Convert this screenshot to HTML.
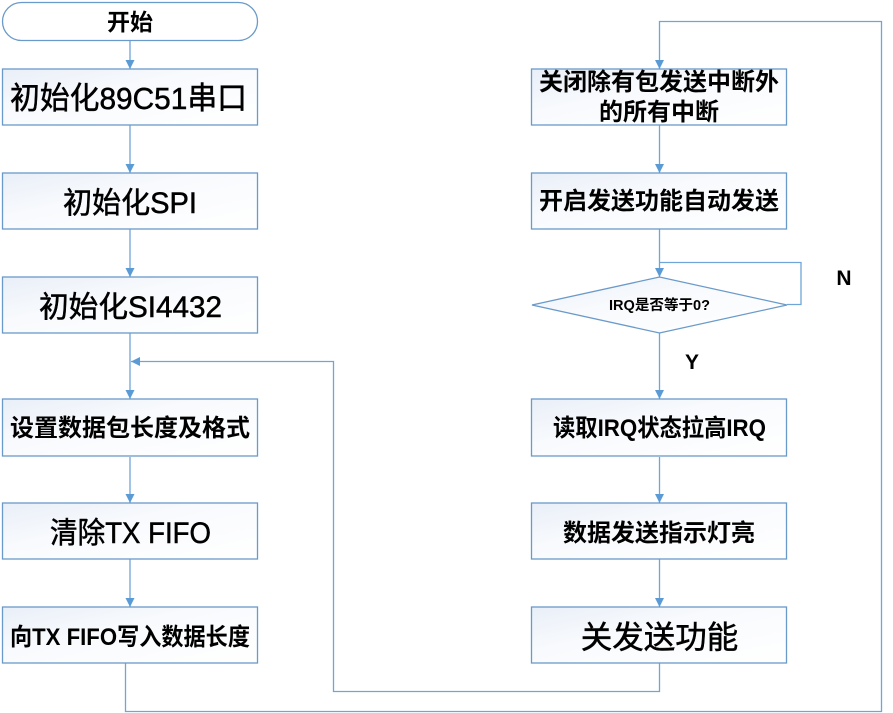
<!DOCTYPE html>
<html lang="zh">
<head>
<meta charset="utf-8">
<style>
html,body{margin:0;padding:0;background:#fff;}
svg{display:block;}
text{font-family:"Liberation Sans","Noto Sans CJK SC",sans-serif;fill:#000;text-anchor:middle;}
.b{font-weight:bold;}
.m{stroke:#000;stroke-width:0.5;}
.box{fill:url(#g);stroke:#6a9ac9;stroke-width:1.3;}
.ln{fill:none;stroke:#6fa5d8;stroke-width:1.3;}
.ah{fill:#5b9bd5;stroke:none;}
</style>
</head>
<body>
<svg width="893" height="713" viewBox="0 0 893 713" xmlns="http://www.w3.org/2000/svg">
<defs>
<linearGradient id="g" x1="0" y1="0" x2="1" y2="1">
<stop offset="0" stop-color="#e9eff8"/>
<stop offset="0.4" stop-color="#f8fafd"/>
<stop offset="1" stop-color="#ffffff"/>
</linearGradient>
</defs>

<!-- connectors -->
<path class="ln" d="M130 41V69M130 125V173M130 229V277M130 333V399M130 457V503M130 559V607"/>
<path class="ln" d="M125.500 663V711.500H881.500V21.500H659.500V69"/>
<path class="ln" d="M659.500 663V691.500H333.500V361.500H131"/>
<path class="ln" d="M659.500 125V173M659.500 229V277M659.500 333V399M659.500 457V503M659.500 559V607"/>
<path class="ln" d="M659.500 262.500H801V304.500H787"/>

<!-- arrowheads -->
<path class="ah" d="M125.500 60H134.500L130 69Z"/>
<path class="ah" d="M125.500 164H134.500L130 173Z"/>
<path class="ah" d="M125.500 268H134.500L130 277Z"/>
<path class="ah" d="M125.500 390H134.500L130 399Z"/>
<path class="ah" d="M125.500 494H134.500L130 503Z"/>
<path class="ah" d="M125.500 598H134.500L130 607Z"/>
<path class="ah" d="M131 361.500L140 357V366Z"/>
<path class="ah" d="M655 60H664L659.500 69Z"/>
<path class="ah" d="M655 164H664L659.500 173Z"/>
<path class="ah" d="M655 268H664L659.500 277Z"/>
<path class="ah" d="M655 390H664L659.500 399Z"/>
<path class="ah" d="M655 494H664L659.500 503Z"/>
<path class="ah" d="M655 598H664L659.500 607Z"/>

<!-- left column -->
<rect x="2.500" y="2.500" width="255" height="38" rx="19" ry="19" fill="#fff" stroke="#6a9ac9" stroke-width="1.300"/>
<rect class="box" x="2.500" y="69" width="255" height="56"/>
<rect class="box" x="2.500" y="173" width="255" height="56"/>
<rect class="box" x="2.500" y="277" width="255" height="56"/>
<rect class="box" x="2.500" y="399" width="255" height="57"/>
<rect class="box" x="2.500" y="503" width="255" height="56"/>
<rect class="box" x="2.500" y="607" width="255" height="56"/>

<!-- right column -->
<rect class="box" x="531.500" y="69" width="255" height="56"/>
<rect class="box" x="531.500" y="173" width="255" height="56"/>
<path class="box" d="M532 305L659.500 277L787 305L659.500 333Z"/>
<rect class="box" x="531.500" y="399" width="255" height="57"/>
<rect class="box" x="531.500" y="503" width="255" height="56"/>
<rect class="box" x="531.500" y="607" width="255" height="56"/>

<!-- labels left -->
<text class="b" x="130" y="30" font-size="23">开始</text>
<text class="m" x="128.500" y="109" font-size="31" textLength="237" lengthAdjust="spacingAndGlyphs">初始化89C51串口</text>
<text class="m" x="130" y="213" font-size="29.500" textLength="134" lengthAdjust="spacingAndGlyphs">初始化SPI</text>
<text class="m" x="130.500" y="317" font-size="29.500" textLength="183" lengthAdjust="spacingAndGlyphs">初始化SI4432</text>
<text class="b" x="130" y="436" font-size="24">设置数据包长度及格式</text>
<text class="m" x="130.500" y="543" font-size="29.500" textLength="161" lengthAdjust="spacingAndGlyphs">清除TX FIFO</text>
<text class="b" x="130" y="645" font-size="24" textLength="240" lengthAdjust="spacingAndGlyphs">向TX FIFO写入数据长度</text>

<!-- labels right -->
<text class="b" x="659" y="90" font-size="24">关闭除有包发送中断外</text>
<text class="b" x="659" y="120" font-size="24">的所有中断</text>
<text class="b" x="659" y="209" font-size="24">开启发送功能自动发送</text>
<text class="b" x="659.500" y="310" font-size="14.500" textLength="101" lengthAdjust="spacingAndGlyphs">IRQ是否等于0?</text>
<text class="b" x="659.500" y="436" font-size="24" textLength="213" lengthAdjust="spacingAndGlyphs">读取IRQ状态拉高IRQ</text>
<text class="b" x="659" y="541" font-size="24">数据发送指示灯亮</text>
<text class="m" x="659.500" y="648" font-size="31.500">关发送功能</text>

<text class="b" x="844" y="285" font-size="21">N</text>
<text class="b" x="692" y="369" font-size="21">Y</text>
</svg>
</body>
</html>
